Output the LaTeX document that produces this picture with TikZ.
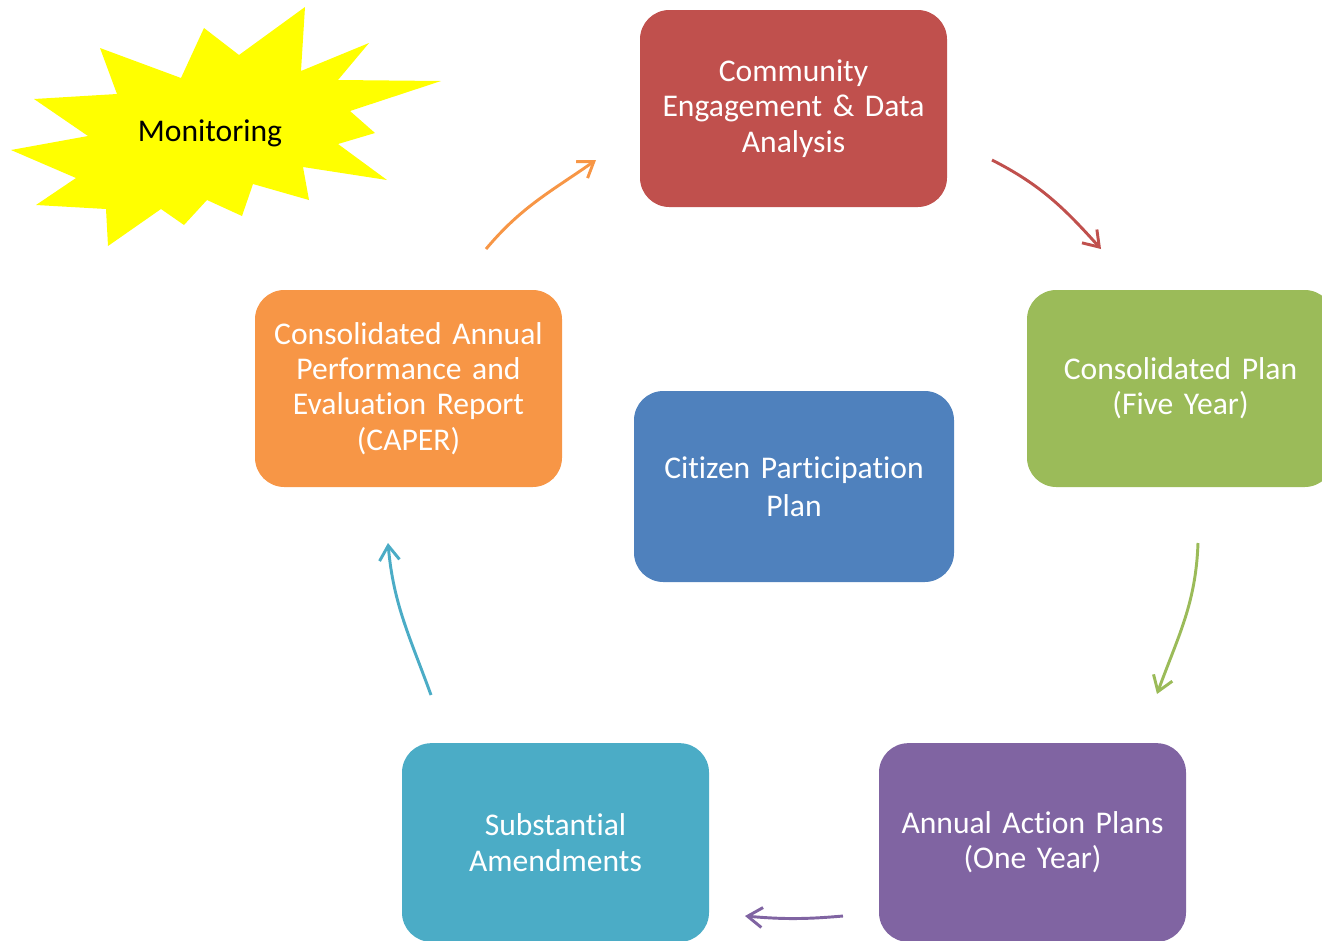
\documentclass[tikz,border=0pt]{standalone}
\usepackage{fontspec}
\setmainfont{Carlito}[Ligatures=NoCommon]
\usetikzlibrary{arrows.meta}
\definecolor{cred}{HTML}{C0504D}
\definecolor{cgreen}{HTML}{9BBB59}
\definecolor{cpurple}{HTML}{8064A2}
\definecolor{cteal}{HTML}{4BACC6}
\definecolor{corange}{HTML}{F79646}
\definecolor{cblue}{HTML}{4F81BD}
\definecolor{burst}{HTML}{FFFF00}
\begin{document}
\begin{tikzpicture}[x=0.75pt,y=0.75pt,
  labelfont/.style={font=\fontsize{23.7}{26.5}\selectfont},
  stagebox/.style={fill=#1, draw=none, rounded corners=22pt, inner sep=0pt,
    minimum width=230.25pt, minimum height=149pt, text width=225pt,
    align=center, text=white, labelfont},
  cyclearrow/.style={draw=#1, line width=2.2pt,
    -{Straight Barb[length=11pt,width=15pt,line width=2.2pt]}}]
\useasboundingbox (0,0) rectangle (1322,-940);
\clip (0,0) rectangle (1322,-940);

% starburst behind the monitoring label
\fill[burst] (305,-7) -- (301,-71) -- (369,-43) -- (338,-80) -- (441,-81)
  -- (350,-111) -- (375,-133) -- (338,-144) -- (387,-180) -- (303,-167)
  -- (309,-200) -- (253,-184) -- (242,-216) -- (207,-200) -- (184,-225)
  -- (161,-209) -- (108,-246) -- (106,-209) -- (36,-205) -- (76,-178)
  -- (11,-150) -- (88,-136) -- (34,-99) -- (117,-94) -- (100,-48)
  -- (181,-78) -- (204,-28) -- (239,-55) -- cycle;
\node[labelfont] (mon) at (210,-133) {Monitoring};

% stages of the cycle
\node[stagebox=cred, minimum height=147.75pt] (engage) at (793.5,-108.5)
  {Community\\Engagement \& Data\\Analysis};
\node[stagebox=cgreen, minimum height=147.75pt] (conplan) at (1180.5,-388.5)
  {Consolidated Plan\\(Five Year)};
\node[stagebox=cpurple] (action) at (1032.5,-842.5)
  {Annual Action Plans\\(One Year)};
\node[stagebox=cteal] (amend) at (555.5,-842.5)
  {Substantial\\Amendments};
\node[stagebox=corange, minimum height=147.75pt] (caper) at (408.5,-388.5)
  {Consolidated Annual\\Performance and\\Evaluation Report\\(CAPER)};
\node[stagebox=cblue, minimum width=240pt, minimum height=143.25pt, text width=235pt,
  font=\fontsize{23.7}{28.5}\selectfont]
  (cpp) at (794,-486.5) {Citizen Participation\\Plan};

% arrow end points between the stages
\coordinate (o1) at (486,-249);  \coordinate (o2) at (596,-160);
\coordinate (r1) at (992,-160);  \coordinate (r2) at (1101,-249);
\coordinate (g1) at (1198,-543); \coordinate (g2) at (1157,-694);
\coordinate (p1) at (843,-916);  \coordinate (p2) at (745,-916);
\coordinate (t1) at (431,-695);  \coordinate (t2) at (388,-543);

\draw[cyclearrow=corange] (o1) to[out=50,in=215] (o2);
\draw[cyclearrow=cred] (r1) to[out=-27,in=132] (r2);
\draw[cyclearrow=cgreen] (g1) to[out=-92,in=70] (g2);
\draw[cyclearrow=cpurple] (p1) to[out=185,in=-5] (p2);
\draw[cyclearrow=cteal] (t1) to[out=110,in=-85] (t2);
\end{tikzpicture}
\end{document}
